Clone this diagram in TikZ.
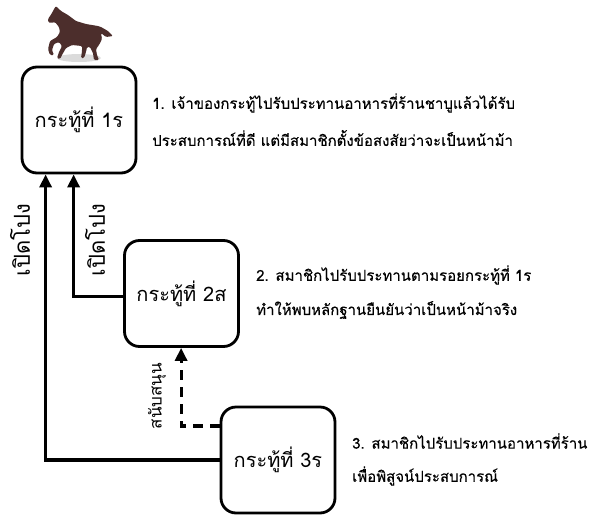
\documentclass[tikz,border=0pt]{standalone}
\usepackage{fontspec}
\newfontfamily\thaifont[Script=Thai]{Loma}
\newfontfamily\thaidark[Script=Thai,FakeBold=0.3]{Loma}
\usetikzlibrary{arrows.meta}
\begin{document}
\begin{tikzpicture}[x=1pt,y=-1pt,
  post/.style={draw=black, line width=2.8pt, rounded corners=15pt,
    minimum width=114pt, minimum height=106pt, font=\thaifont\fontsize{20}{22}\selectfont},
  desc/.style={anchor=west, inner sep=0pt, font=\thaidark\fontsize{15}{17}\selectfont},
  link/.style={line width=3.2pt, -{Triangle[width=12pt,length=13pt]}},
  dashlink/.style={link, dash pattern=on 10pt off 7pt},
  vlabel/.style={rotate=90, inner sep=0pt, font=\thaifont\fontsize{22}{24}\selectfont}]
\useasboundingbox (0,0) rectangle (590,515);

% horse on top of the first post
\fill[gray!35, opacity=0.8] (79,58) ellipse [x radius=22, y radius=4];
\fill[rounded corners=1.2pt, fill={rgb,255:red,76;green,46;blue,44}]
  (56,6) -- (61,11) -- (68,15) -- (76,21) -- (86,24) -- (98,26) -- (101,27)
  -- (108,31) -- (113,36) -- (106,37) -- (101,33)
  -- (102,39) -- (99,45) -- (96,49) -- (97,55) -- (99,60) -- (94,60) -- (93,53) -- (90,47)
  -- (87,47) -- (86,52) -- (84,58) -- (81,58) -- (82,51) -- (82,46)
  -- (72,45) -- (66,48) -- (62,55) -- (60,59) -- (57,58) -- (59,52) -- (62,46)
  -- (59,42) -- (54,44) -- (52,50) -- (54,55) -- (50,55) -- (48,49) -- (50,41) -- (57,37)
  -- (60,32) -- (59,27) -- (55,22) -- (51,23) -- (48,22) -- (48,19) -- (52,13) -- (54,9) -- cycle;

% posts
\node[post] (b1) at (79,120) {กระทู้ที่ 1ร};
\node[post] (b2) at (181.5,293.5) {กระทู้ที่ 2ส};
\node[post] (b3) at (278,460) {กระทู้ที่ 3ร};

% descriptions
\node[desc] (d1a) at (152,103) {1. เจ้าของกระทู้ไปรับประทานอาหารที่ร้านชาบูแล้วได้รับ};
\node[desc] (d1b) at (152,138) {ประสบการณ์ที่ดี แต่มีสมาชิกตั้งข้อสงสัยว่าจะเป็นหน้าม้า};
\node[desc] (d2a) at (256,275) {2. สมาชิกไปรับประทานตามรอยกระทู้ที่ 1ร};
\node[desc] (d2b) at (256,310) {ทำให้พบหลักฐานยืนยันว่าเป็นหน้าม้าจริง};
\node[desc] (d3a) at (352,441) {3. สมาชิกไปรับประทานอาหารที่ร้าน};
\node[desc] (d3b) at (352,476) {เพื่อพิสูจน์ประสบการณ์};

% connectors
\draw[link] (b3.west) -| ([xshift=25pt]b1.south west);
\draw[link] ([yshift=-3pt]b2.west) -| ([xshift=53pt]b1.south west);
\draw[dashlink] ([yshift=34pt]b3.west) -| ([xshift=58pt]b2.south west);

% connector labels
\node[vlabel] (l1) at (20,240) {เปิดโปง};
\node[vlabel] (l2) at (95,240) {เปิดโปง};
\node[vlabel, font=\thaifont\fontsize{17}{19}\selectfont] (l3) at (157,396) {สนับสนุน};
\end{tikzpicture}
\end{document}
